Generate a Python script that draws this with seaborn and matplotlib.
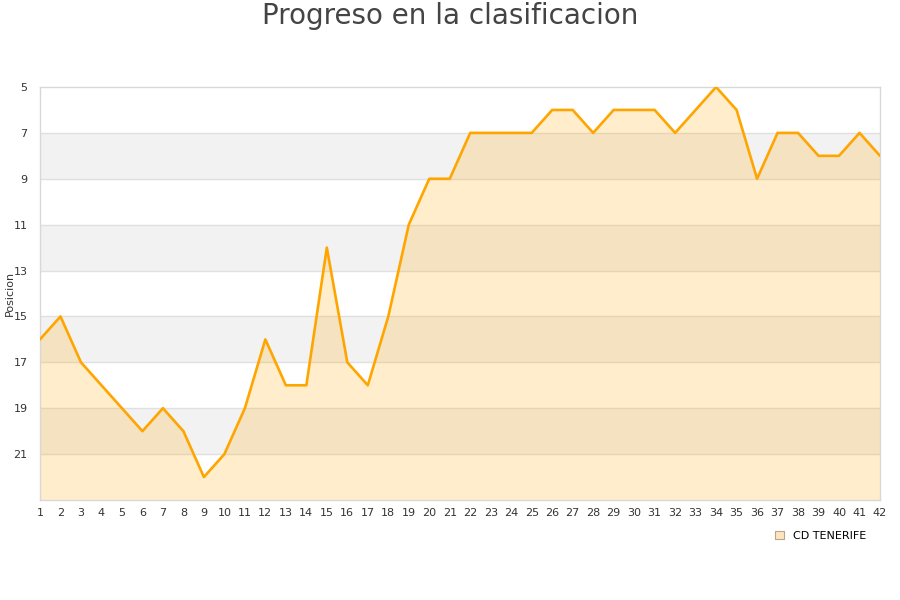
import matplotlib
matplotlib.use("Agg")
import matplotlib.pyplot as plt
import seaborn as sns
import pandas as pd
from matplotlib.patches import Patch

jornadas = list(range(1, 43))
posicion = [16, 15, 17, 18, 19, 20, 19, 20, 22, 21, 19, 16, 18, 18, 12, 17, 18, 15, 11, 9,
            9, 7, 7, 7, 7, 6, 6, 7, 6, 6, 6, 7, 6, 5, 6, 9, 7, 7, 8, 8, 7, 8]
y_ticks = [5, 7, 9, 11, 13, 15, 17, 19, 21]
serie = "CD TENERIFE"
titulo = "Progreso en la clasificacion"
y_label = "Posicion"

df = pd.DataFrame({"Jornada": jornadas, "Posicion": posicion})

sns.set_theme(style="white")
plt.rcParams['font.family'] = ['DejaVu Sans']

fig = plt.figure(figsize=(9, 6), dpi=100)
ax = fig.add_axes([40/900, 1-500/600, 840/900, 413/600])

y_min, y_max = 5, 23
for lo in [7, 11, 15, 19]:
    ax.axhspan(lo, lo + 2, color="#f2f2f2", zorder=0, lw=0)
for t in y_ticks[1:]:
    ax.axhline(t, color="#e0e0e0", lw=1, zorder=1)

ax.fill_between(df["Jornada"], df["Posicion"], y_max, color="#ffa500", alpha=0.2, lw=0, zorder=2)
sns.lineplot(data=df, x="Jornada", y="Posicion", ax=ax, color="#ffa500", lw=1.9, zorder=3)

ax.set_xlim(1, 42)
ax.set_ylim(y_max, y_min)
ax.set_xticks(jornadas)
ax.set_xticklabels([str(j) for j in jornadas])
ax.set_yticks(y_ticks)
ax.tick_params(axis="both", labelsize=8, colors="#333333", length=0, pad=6)
ax.tick_params(axis="y", pad=9)
ax.set_xlabel("")
ax.set_ylabel("")
fig.text(10/900, 1 - 293/600, y_label, rotation=90, ha="center", va="center",
         fontsize=8, color="#333333")

for s in ax.spines.values():
    s.set_color("#d8d8d8")
    s.set_linewidth(1)

fig.text(0.5, 1 - 16/600, titulo, ha="center", va="center", fontsize=20, color="#444444")

handle = Patch(facecolor="#fde5bd", edgecolor="#b8a68a", lw=0.8)
fig.legend([handle], [serie], loc="center left", bbox_to_anchor=(765/900, 1 - 536/600),
           frameon=False, fontsize=8, handlelength=0.8, handleheight=0.8, handletextpad=0.8,
           labelcolor="#000000")

fig.savefig("out.png", dpi=100)
